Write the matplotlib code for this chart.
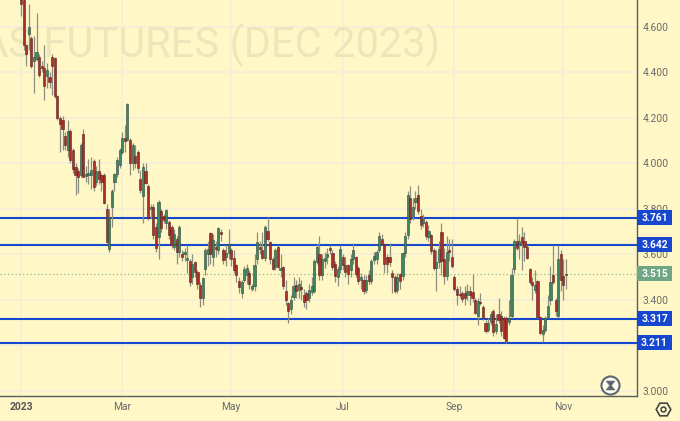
import matplotlib
matplotlib.use("Agg")
import matplotlib.pyplot as plt
from matplotlib.patches import Rectangle
from matplotlib.transforms import blended_transform_factory

plt.rcParams['font.family'] = ['Roboto', 'DejaVu Sans']

opens = [4.74,4.72,4.52,4.57,4.55,4.45,4.46,4.47,4.43,4.42,
 4.385,4.38,4.47,4.465,4.295,4.20,4.19,4.12,4.06,4.145,
 4.06,3.985,3.965,3.95,4.13,3.945,3.95,3.95,4.01,3.92,3.965,
 3.95,3.95,3.80,3.625,3.81,3.92,3.955,3.995,4.05,4.11,
 4.105,4.105,4.0,4.035,4.05,3.93,3.855,3.965,3.90,3.80,
 3.81,3.72,3.675,3.79,3.77,3.74,3.745,3.72,3.635,3.67,
 3.61,3.60,3.60,
 3.575,3.57,3.50,3.565,3.525,3.465,3.41,3.535,3.60,3.695,
 3.59,3.635,3.62,3.70,3.62,3.59,3.605,3.62,3.585,3.555,
 3.485,3.43,3.49,3.51,3.52,3.45,3.46,3.58,3.635,3.62,
 3.585,3.705,3.655,3.58,3.545,3.635,3.53,3.545,3.44,3.385,
 3.36,3.415,3.465,3.445,3.455,3.42,3.43,3.41,3.435,3.44,
 3.565,3.60,3.51,3.57,3.59,3.63,3.605,3.56,3.50,3.535,
 3.59,3.555,3.555,3.53,3.58,3.59,3.54,3.49,3.49,
 3.445,3.51,3.485,3.575,3.58,3.62,3.67,3.645,3.59,3.59,
 3.52,3.50,3.445,3.515,3.505,3.605,
 3.685,3.85,3.77,3.83,3.86,3.77,3.74,3.745,3.675,3.685,
 3.62,3.54,3.565,3.70,3.58,3.505,3.62,3.59,3.50,3.45,
 3.425,3.43,3.43,3.42,3.44,3.435,3.40,3.33,3.39,3.37,
 3.30,3.27,3.305,3.35,3.265,3.34,3.33,3.32,3.32,3.305,
 3.33,3.535,3.66,3.645,3.675,3.66,3.635,3.535,3.48,3.445,
 3.485,3.325,3.25,3.27,3.325,3.40,3.51,3.40,3.33,3.60,
 3.505,3.51]
highs = [4.78,4.76,4.52,4.70,4.56,4.56,4.66,4.48,4.45,4.52,
 4.44,4.40,4.48,4.47,4.30,4.21,4.21,4.14,4.19,4.15,
 4.07,4.0,3.98,4.09,4.15,3.99,4.02,4.03,4.02,3.99,4.02,
 3.96,3.96,3.82,3.80,3.89,3.96,4.03,4.07,4.14,4.17,
 4.265,4.11,4.09,4.08,4.06,3.97,4.0,4.0,3.91,3.82,
 3.82,3.74,3.84,3.80,3.78,3.80,3.75,3.73,3.71,3.68,
 3.73,3.62,3.63,
 3.64,3.58,3.60,3.57,3.53,3.48,3.50,3.63,3.66,3.70,
 3.69,3.66,3.72,3.71,3.63,3.64,3.71,3.63,3.62,3.56,
 3.50,3.49,3.55,3.56,3.53,3.47,3.60,3.70,3.66,3.70,
 3.73,3.765,3.66,3.59,3.63,3.64,3.60,3.55,3.49,3.39,
 3.42,3.50,3.49,3.50,3.49,3.45,3.44,3.47,3.50,3.58,
 3.645,3.68,3.60,3.61,3.63,3.64,3.62,3.57,3.55,3.64,
 3.60,3.59,3.56,3.60,3.65,3.595,3.55,3.52,3.51,
 3.51,3.53,3.58,3.61,3.62,3.70,3.69,3.65,3.60,3.65,
 3.53,3.51,3.52,3.52,3.61,3.70,
 3.88,3.90,3.85,3.88,3.905,3.80,3.78,3.75,3.73,3.69,
 3.63,3.62,3.66,3.74,3.63,3.68,3.67,3.67,3.51,3.46,
 3.46,3.44,3.46,3.47,3.46,3.515,3.41,3.41,3.43,3.38,
 3.31,3.32,3.35,3.36,3.34,3.41,3.35,3.33,3.33,3.40,
 3.54,3.67,3.76,3.69,3.72,3.70,3.64,3.54,3.50,3.53,
 3.49,3.33,3.29,3.33,3.42,3.55,3.64,3.41,3.64,3.62,
 3.58,3.58]
lows = [4.65,4.50,4.43,4.50,4.42,4.31,4.45,4.38,4.40,4.28,
 4.33,4.33,4.30,4.29,4.19,4.05,4.06,4.06,4.03,4.0,
 3.96,3.86,3.87,3.94,3.94,3.92,3.91,3.89,3.88,3.90,3.91,
 3.88,3.82,3.65,3.61,3.72,3.88,3.94,3.98,4.04,4.05,
 4.10,3.95,3.97,3.98,3.96,3.87,3.74,3.91,3.75,3.76,
 3.67,3.61,3.58,3.70,3.74,3.71,3.67,3.63,3.62,3.56,
 3.59,3.57,3.57,
 3.52,3.46,3.47,3.50,3.45,3.37,3.38,3.51,3.55,3.56,
 3.55,3.59,3.60,3.66,3.56,3.55,3.58,3.55,3.52,3.48,
 3.43,3.41,3.48,3.47,3.45,3.44,3.44,3.56,3.60,3.58,
 3.57,3.66,3.56,3.53,3.53,3.54,3.50,3.45,3.38,3.30,
 3.34,3.40,3.41,3.41,3.40,3.37,3.36,3.39,3.42,3.43,
 3.56,3.49,3.49,3.54,3.56,3.60,3.53,3.48,3.46,3.52,
 3.53,3.50,3.47,3.50,3.56,3.50,3.47,3.45,3.425,
 3.43,3.47,3.47,3.56,3.56,3.61,3.64,3.52,3.52,3.55,
 3.43,3.43,3.43,3.45,3.49,3.59,
 3.67,3.74,3.75,3.80,3.78,3.71,3.72,3.67,3.66,3.60,
 3.53,3.44,3.54,3.51,3.47,3.49,3.57,3.54,3.44,3.38,
 3.41,3.39,3.38,3.40,3.38,3.39,3.34,3.29,3.38,3.31,
 3.255,3.26,3.29,3.24,3.25,3.30,3.24,3.23,3.21,3.29,
 3.32,3.52,3.62,3.58,3.53,3.57,3.58,3.47,3.40,3.43,
 3.32,3.25,3.215,3.26,3.32,3.38,3.47,3.33,3.32,3.44,
 3.40,3.45]
closes = [4.70,4.52,4.48,4.60,4.43,4.47,4.49,4.39,4.42,4.34,
 4.41,4.36,4.43,4.295,4.20,4.175,4.15,4.08,4.145,4.015,
 3.975,3.95,3.94,4.08,3.94,3.955,3.96,3.97,3.895,3.965,3.93,
 3.92,3.825,3.655,3.765,3.88,3.955,4.015,4.06,4.11,4.10,
 4.26,4.0,4.08,4.0,3.98,3.885,3.985,3.915,3.76,3.81,
 3.685,3.63,3.83,3.715,3.75,3.795,3.685,3.64,3.69,3.61,
 3.72,3.59,3.61,
 3.585,3.48,3.56,3.525,3.47,3.41,3.495,3.62,3.625,3.60,
 3.665,3.625,3.715,3.69,3.575,3.605,3.645,3.58,3.53,3.51,
 3.455,3.48,3.535,3.54,3.47,3.46,3.555,3.655,3.625,3.585,
 3.72,3.67,3.58,3.535,3.62,3.545,3.54,3.46,3.40,3.35,
 3.40,3.46,3.44,3.47,3.45,3.39,3.40,3.445,3.46,3.57,
 3.635,3.51,3.58,3.585,3.60,3.62,3.545,3.505,3.535,3.625,
 3.555,3.525,3.515,3.58,3.62,3.515,3.485,3.50,3.44,
 3.49,3.485,3.57,3.595,3.61,3.68,3.645,3.56,3.56,3.565,
 3.50,3.44,3.50,3.485,3.605,3.68,
 3.86,3.755,3.81,3.85,3.79,3.73,3.755,3.68,3.705,3.615,
 3.54,3.565,3.625,3.57,3.505,3.61,3.61,3.55,3.45,3.42,
 3.42,3.405,3.41,3.44,3.42,3.41,3.345,3.395,3.385,3.32,
 3.265,3.30,3.34,3.26,3.295,3.31,3.265,3.235,3.22,3.32,
 3.51,3.66,3.63,3.66,3.65,3.635,3.585,3.48,3.465,3.465,
 3.325,3.255,3.27,3.32,3.375,3.48,3.48,3.35,3.58,3.49,
 3.465,3.515]
assert len(opens) == len(highs) == len(lows) == len(closes)

levels = [3.761, 3.642, 3.317, 3.211]
last_price = 3.515
y_ticks = [3.0, 3.2, 3.4, 3.6, 3.8, 4.0, 4.2, 4.4, 4.6]
y_tick_labels = ['3.000', '', '3.400', '3.600', '3.800', '4.000', '4.200', '4.400', '4.600']
x_tick_pos = [0, 39, 81, 124, 167, 209]
x_tick_labels = ['2023', 'Mar', 'May', 'Jul', 'Sep', 'Nov']

W, H = 680, 421
BG = '#fff8c6'
GRID = '#f3efd9'
UP, DOWN = '#3f8763', '#a92f2a'
BLUE = '#1747cf'

fig = plt.figure(figsize=(W / 100, H / 100), dpi=100, facecolor=BG)
ax = fig.add_axes([0, 25 / H, 636.5 / W, 396 / H], facecolor=BG)

n = len(opens)
step = (566 - 21) / (n - 1)
ax.set_xlim(-21 / step, (636.5 - 21) / step)
ax.set_ylim(4.6 - 369 / 227.5, 4.6 + 27 / 227.5)

ax.set_axisbelow(True)
ax.grid(True, color=GRID, lw=1.2)
ax.yaxis.tick_right()
ax.set_yticks(y_ticks, y_tick_labels)
ax.set_xticks(x_tick_pos, x_tick_labels)
ax.tick_params(length=0, labelsize=7.4, labelcolor='#6a6a6a')
ax.tick_params(axis='y', pad=4.5)
ax.tick_params(axis='x', pad=4.5)
ax.get_xticklabels()[0].set_fontweight('bold')
ax.get_xticklabels()[0].set_color('#555555')
for s in ('top', 'left'):
    ax.spines[s].set_visible(False)
for s in ('right', 'bottom'):
    ax.spines[s].set_color('#5c5c5c')
    ax.spines[s].set_linewidth(1.0)

wm = ax.text(440 / 636.5, 1 - 45 / 396, 'GAS FUTURES (DEC 2023)', transform=ax.transAxes,
             ha='right', va='center', fontsize=30, color='#ece6ba', zorder=1, clip_on=True)

for v in levels:
    ax.axhline(v, color=BLUE, lw=1.5, zorder=2)
ax.axhline(last_price, color='#8fb98f', lw=0.9, ls=(0, (1, 2)), zorder=2)

for i in range(n):
    o, h, l, c = opens[i], highs[i], lows[i], closes[i]
    col = UP if c >= o else DOWN
    ax.vlines(i, l, h, color='#8d8d80', lw=0.9, zorder=3)
    bottom, height = min(o, c), max(abs(c - o), 0.006)
    ax.add_patch(Rectangle((i - 0.42, bottom), 0.84, height, facecolor=col,
                           edgecolor='#2d4a3a' if c >= o else '#5a1f1a', lw=0.4, zorder=4))

ytrans = blended_transform_factory(ax.transAxes, ax.transData)
def tag(v, color):
    hh = 7.5 / 227.5
    ax.add_patch(Rectangle((637 / 636.5, v - hh), 35 / 636.5, 2 * hh, transform=ytrans,
                           facecolor=color, edgecolor='none', zorder=9, clip_on=False))
    ax.text(654.5 / 636.5, v, f'{v:.3f}', transform=ytrans, ha='center', va='center',
            fontsize=7.4, fontweight='bold', color='white', zorder=10, clip_on=False)

for v in levels:
    tag(v, BLUE)
tag(last_price, '#6fa784')

# pane icons (plain shapes, the hourglass has no glyph in the fonts)
hourglass = [(-1, 1), (1, 1), (0.2, 0), (1, -1), (-1, -1), (-0.2, 0), (-1, 1)]
ax.plot([610 / 636.5], [1 - 385 / 396], 'o', ms=13, mfc='#fffdf0', mec='#5f6670', mew=1.5,
        transform=ax.transAxes, zorder=9)
ax.plot([610 / 636.5], [1 - 385 / 396], marker=hourglass, ms=6.5, mfc='#5f6670', mec='#5f6670',
        mew=0.3, transform=ax.transAxes, zorder=10)
fig.add_artist(plt.Line2D([663 / W], [1 - 409 / H], marker='H', ms=10.5, mfc=BG, mec='#444444',
                          mew=1.2, transform=fig.transFigure))
fig.add_artist(plt.Line2D([663 / W], [1 - 409 / H], marker='o', ms=3.5, mfc=BG, mec='#444444',
                          mew=1.1, transform=fig.transFigure))

fig.savefig('out.png', dpi=100, facecolor=BG)
